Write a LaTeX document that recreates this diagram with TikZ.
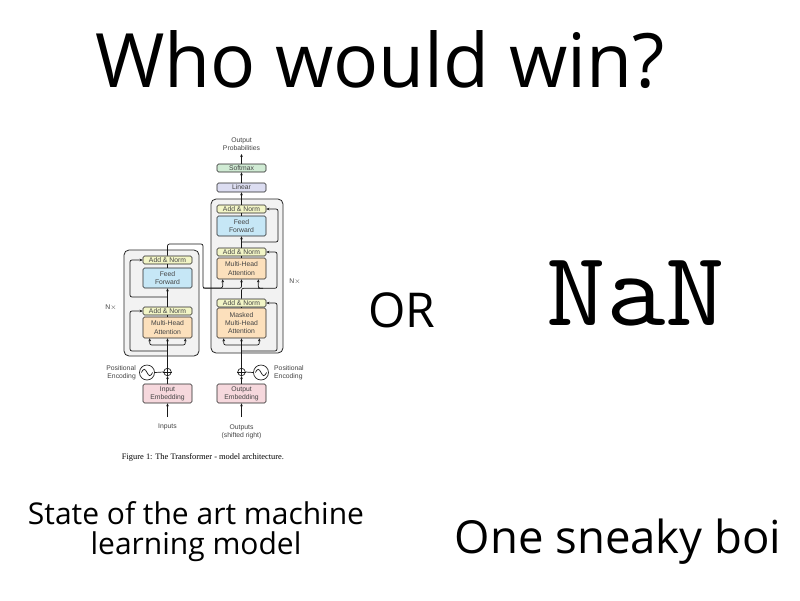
\documentclass[tikz,border=0pt]{standalone}
\usepackage{fontspec}
\usetikzlibrary{arrows.meta,calc}
\newfontfamily\osans{Open Sans}
\newfontfamily\lsans{Liberation Sans}
\newfontfamily\lserif{Liberation Serif}
\definecolor{anfill}{HTML}{F2F5C6}
\definecolor{fffill}{HTML}{C6E7F6}
\definecolor{mhfill}{HTML}{FCE0BC}
\definecolor{emfill}{HTML}{F6D8DD}
\definecolor{smfill}{HTML}{D0EBD4}
\definecolor{lnfill}{HTML}{DCDDF1}
\definecolor{boxbg}{HTML}{F2F2F2}
\definecolor{dtext}{HTML}{444444}
\begin{document}
\begin{tikzpicture}[x=1pt,y=-1pt,
  blk/.style={draw=black!85, line width=0.6pt, rounded corners=1.5pt, minimum width=49pt,
    inner sep=0pt, font=\lsans\fontsize{6.8}{8.2}\selectfont, text=dtext, align=center},
  cont/.style={draw=black!85, line width=0.8pt, fill=boxbg, rounded corners=5pt, inner sep=0pt},
  lbl/.style={font=\lsans\fontsize{6.8}{8.2}\selectfont, text=dtext, align=center, inner sep=0pt},
  conn/.style={line width=0.7pt, black!90},
  arr/.style={conn, -{Stealth[length=3pt,width=2.6pt]}},
  rc/.style={rounded corners=2pt},
  big/.style={inner sep=0pt, anchor=base, text=black}
]
\useasboundingbox[fill=white] (0,0) rectangle (800,600);

% headline texts
\node[big, font=\osans\fontsize{75}{90}\selectfont] (title) at (380,87) {Who would win?};
\node[big, font=\osans\fontsize{48}{56}\selectfont] (or) at (402,327) {OR};
\node[big, font=\ttfamily\fontsize{106}{120}\selectfont] (nan) at (636,325) {\scalebox{1.09}[1]{NaN}};
\node[big, font=\osans\fontsize{30}{30}\selectfont] (left1) at (196,524) {State of the art machine};
\node[big, font=\osans\fontsize{30}{30}\selectfont] (left2) at (196,554) {learning model};
\node[big, font=\osans\fontsize{45.5}{52}\selectfont] (right) at (618,553) {One sneaky boi};

% containers
\node[cont, minimum width=75pt, minimum height=106pt] (encBox) at (161.5,303) {};
\node[cont, minimum width=72pt, minimum height=154pt] (decBox) at (247,276) {};

% encoder blocks
\node[blk, fill=anfill, minimum height=8pt] (encAN2) at (167.5,260) {Add \& Norm};
\node[blk, fill=fffill, minimum height=20pt] (encFF) at (167.5,278) {Feed\\Forward};
\node[blk, fill=anfill, minimum height=8pt] (encAN1) at (167.5,311) {Add \& Norm};
\node[blk, fill=mhfill, minimum height=21pt] (encMHA) at (167.5,327.5) {Multi-Head\\Attention};
\node[blk, fill=emfill, minimum height=19pt] (encEmb) at (167.5,393.5) {Input\\Embedding};

% decoder blocks
\node[blk, fill=smfill, minimum height=8pt] (soft) at (241.5,168) {Softmax};
\node[blk, fill=lnfill, minimum height=9pt] (lin) at (241.5,187.5) {Linear};
\node[blk, fill=anfill, minimum height=8pt] (decAN3) at (241.5,209) {Add \& Norm};
\node[blk, fill=fffill, minimum height=20pt] (decFF) at (241.5,226) {Feed\\Forward};
\node[blk, fill=anfill, minimum height=8pt] (decAN2) at (241.5,252) {Add \& Norm};
\node[blk, fill=mhfill, minimum height=21pt] (decMHA) at (241.5,268.5) {Multi-Head\\Attention};
\node[blk, fill=anfill, minimum height=8pt] (decAN1) at (241.5,303) {Add \& Norm};
\node[blk, fill=mhfill, minimum height=30pt] (decMMHA) at (241.5,323) {Masked\\Multi-Head\\Attention};
\node[blk, fill=emfill, minimum height=19pt] (decEmb) at (241.5,393.5) {Output\\Embedding};

% labels
\node[lbl] (outprob) at (241.5,144) {Output\\Probabilities};
\node[lbl] (inputs) at (167.5,427) {Inputs};
\node[lbl] (outputs) at (241.5,432) {Outputs\\(shifted right)};
\node[lbl, align=right, anchor=east] (encPEl) at (136,372.5) {Positional\\Encoding};
\node[lbl, align=left, anchor=west] (decPEl) at (274,372.5) {Positional\\Encoding};
\node[lbl] (nxL) at (111,308) {N$\times$};
\node[lbl] (nxR) at (295,282) {N$\times$};
\node[inner sep=0pt, font=\lserif\fontsize{8.4}{10}\selectfont] (caption) at (203,457) {Figure 1: The Transformer - model architecture.};

% positional encodings
\node[draw=black!85, line width=0.7pt, circle, minimum size=15pt, inner sep=0pt] (encSin) at (147,372.5) {};
\node[draw=black!85, line width=0.7pt, circle, minimum size=7.5pt, inner sep=0pt] (encPlus) at (167.5,372) {};
\node[draw=black!85, line width=0.7pt, circle, minimum size=7.5pt, inner sep=0pt] (decPlus) at (241.5,372) {};
\node[draw=black!85, line width=0.7pt, circle, minimum size=15pt, inner sep=0pt] (decSin) at (261,372.5) {};
\foreach \s in {encSin,decSin}{
  \draw[conn] ($(\s.center)+(-5.6,0)$) sin ++(2.8,-3.2) cos ++(2.8,3.2) sin ++(2.8,3.2) cos ++(2.8,-3.2);
}
\foreach \p in {encPlus,decPlus}{
  \draw[conn] (\p.north) -- (\p.south);
  \draw[conn] (\p.west) -- (\p.east);
}
\draw[conn] (encSin.east) -- (encPlus.west);
\draw[conn] (decSin.west) -- (decPlus.east);

% coordinates for branches
\coordinate (eB) at (167.5,345);
\coordinate (eR) at (167.5,351);
\coordinate (eR2) at (167.5,297);
\coordinate (eX) at (203,244);
\coordinate (dB) at (241.5,345);
\coordinate (dR) at (241.5,351);
\coordinate (dR3) at (241.5,242);
\coordinate (probEnd) at (241.5,154);
\coordinate (inStart) at (167.5,417);
\coordinate (outStart) at (241.5,417);

% encoder connectors
\draw[arr] (inStart) -- (encEmb.south);
\draw[arr] (encEmb.north) -- (encPlus.south);
\draw[arr] (encPlus.north) -- (encMHA.south);
\draw[arr, rc] (eB) -| ($(encMHA.south west)+(7,0)$);
\draw[arr, rc] (eB) -| ($(encMHA.south east)+(-7,0)$);
\draw[arr, rc] (eR) -| (130,311) -- (encAN1.west);
\draw[conn] (encMHA.north) -- (encAN1.south);
\draw[arr] (encAN1.north) -- (encFF.south);
\draw[arr, rc] (eR2) -| (130,260) -- (encAN2.west);
\draw[conn] (encFF.north) -- (encAN2.south);
\draw[arr, rc] (encAN2.north) |- (eX) |- ($(decMHA.south)+(-5,9)$) -| (decMHA.south);
\draw[arr, rc] (203,288) -| ($(decMHA.south west)+(6,0)$);

% decoder connectors
\draw[arr] (outStart) -- (decEmb.south);
\draw[arr] (decEmb.north) -- (decPlus.south);
\draw[arr] (decPlus.north) -- (decMMHA.south);
\draw[arr, rc] (dB) -| ($(decMMHA.south west)+(7,0)$);
\draw[arr, rc] (dB) -| ($(decMMHA.south east)+(-7,0)$);
\draw[arr, rc] (dR) -| (277,303) -- (decAN1.east);
\draw[conn] (decMMHA.north) -- (decAN1.south);
\draw[arr, rc] (decAN1.north) |- ($(decMHA.south east)+(-2,9)$) -| ($(decMHA.south east)+(-8,0)$);
\draw[arr, rc] ($(decMHA.south east)+(-8,9)$) -| (277,252) -- (decAN2.east);
\draw[conn] (decMHA.north) -- (decAN2.south);
\draw[arr] (decAN2.north) -- (decFF.south);
\draw[arr, rc] (dR3) -| (278,209) -- (decAN3.east);
\draw[conn] (decFF.north) -- (decAN3.south);
\draw[arr] (decAN3.north) -- (lin.south);
\draw[arr] (lin.north) -- (soft.south);
\draw[arr] (soft.north) -- (probEnd);
\end{tikzpicture}
\end{document}
